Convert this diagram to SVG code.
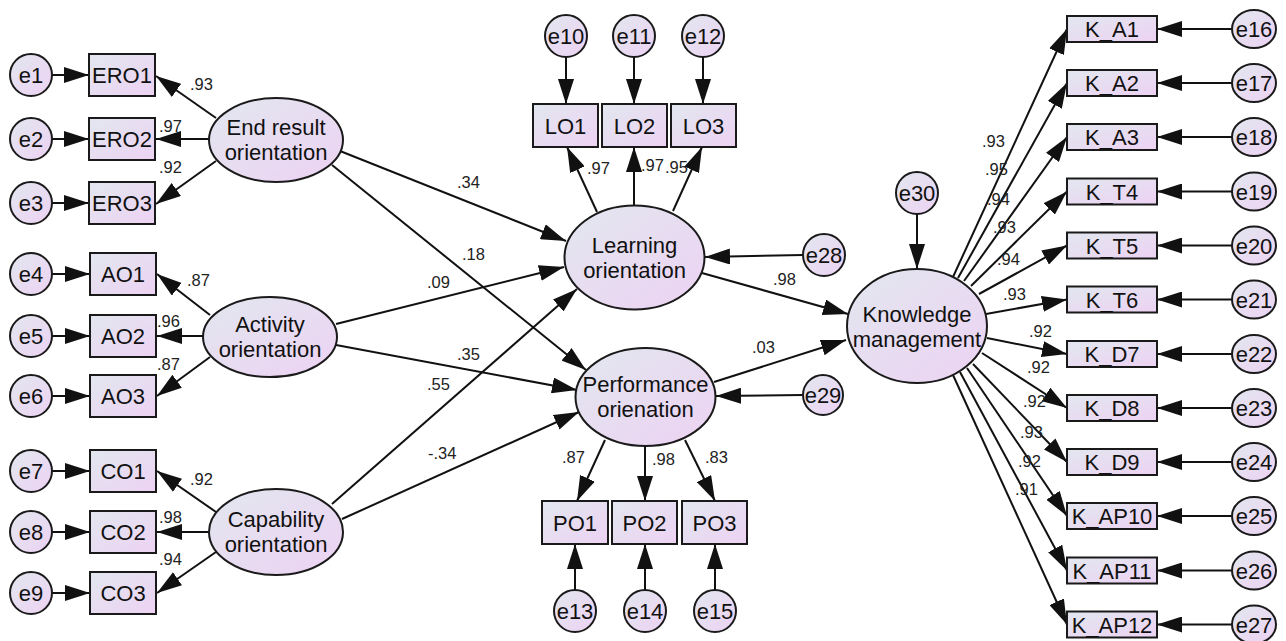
<svg xmlns="http://www.w3.org/2000/svg" width="1286" height="641" viewBox="0 0 1286 641">
<defs>
<linearGradient id="g" x1="0" y1="0" x2="1" y2="1">
<stop offset="0" stop-color="#e2e7ef"/>
<stop offset="1" stop-color="#edd2f3"/>
</linearGradient>
<marker id="a" markerUnits="userSpaceOnUse" markerWidth="25" markerHeight="16" refX="25" refY="8" orient="auto">
<path d="M0,0 L25,8 L0,16 z" fill="#111"/>
</marker>
<style>
.n{fill:url(#g);stroke:#1a1a1a;stroke-width:2}
.t{font-family:"Liberation Sans",Arial,sans-serif;font-size:22px;fill:#111;text-anchor:middle}
.c line{stroke:#111;stroke-width:2;marker-end:url(#a)}
.l{font-family:"Liberation Sans",Arial,sans-serif;font-size:16.5px;fill:#222}
</style>
</defs>
<rect width="1286" height="641" fill="#fff"/>

<g class="c" id="connectors">
<line x1="52" y1="75" x2="89" y2="75"/>
<line x1="52" y1="139" x2="89" y2="139"/>
<line x1="52" y1="203" x2="89" y2="203"/>
<line x1="52" y1="274" x2="90" y2="274"/>
<line x1="52" y1="336" x2="90" y2="336"/>
<line x1="52" y1="396" x2="90" y2="396"/>
<line x1="52" y1="471" x2="90" y2="471"/>
<line x1="52" y1="532" x2="90" y2="532"/>
<line x1="52" y1="593" x2="90" y2="593"/>
<line x1="216" y1="118" x2="156" y2="76"/>
<line x1="209" y1="139" x2="156" y2="139"/>
<line x1="216" y1="161" x2="156" y2="204"/>
<line x1="210" y1="315" x2="157" y2="274"/>
<line x1="203" y1="336" x2="157" y2="336"/>
<line x1="210" y1="357" x2="157" y2="396"/>
<line x1="216" y1="512" x2="157" y2="471"/>
<line x1="209" y1="532" x2="157" y2="532"/>
<line x1="216" y1="552" x2="157" y2="593"/>
<line x1="340" y1="151" x2="566" y2="241"/>
<line x1="332" y1="165" x2="586" y2="370"/>
<line x1="336" y1="324" x2="564" y2="267"/>
<line x1="336" y1="345" x2="577" y2="390"/>
<line x1="332" y1="504" x2="577" y2="289"/>
<line x1="342" y1="519" x2="579" y2="412"/>
<line x1="702" y1="273" x2="848" y2="314"/>
<line x1="714" y1="382" x2="846" y2="340"/>
<line x1="803" y1="255" x2="705" y2="257"/>
<line x1="803" y1="395" x2="716" y2="396"/>
<line x1="917" y1="214" x2="917" y2="269"/>
<line x1="566" y1="57" x2="566" y2="104"/>
<line x1="634" y1="57" x2="634" y2="104"/>
<line x1="703" y1="57" x2="703" y2="104"/>
<line x1="597" y1="212" x2="567" y2="147"/>
<line x1="634" y1="205" x2="634" y2="147"/>
<line x1="673" y1="211" x2="702" y2="147"/>
<line x1="605" y1="440" x2="577" y2="501"/>
<line x1="645" y1="446" x2="645" y2="501"/>
<line x1="685" y1="440" x2="715" y2="501"/>
<line x1="575" y1="590" x2="575" y2="544"/>
<line x1="645" y1="590" x2="645" y2="544"/>
<line x1="715" y1="590" x2="715" y2="544"/>
<line x1="953" y1="277" x2="1067" y2="29"/>
<line x1="958" y1="278" x2="1067" y2="83"/>
<line x1="964" y1="281" x2="1067" y2="137"/>
<line x1="971" y1="286" x2="1067" y2="191.5"/>
<line x1="979" y1="294" x2="1067" y2="245.5"/>
<line x1="986" y1="314" x2="1067" y2="299.5"/>
<line x1="987" y1="338" x2="1067" y2="354"/>
<line x1="982" y1="353" x2="1067" y2="408"/>
<line x1="973" y1="364" x2="1067" y2="462"/>
<line x1="967" y1="368" x2="1067" y2="516"/>
<line x1="960" y1="372" x2="1067" y2="570.5"/>
<line x1="953" y1="375" x2="1067" y2="624.5"/>
<line x1="1232" y1="29" x2="1157" y2="29"/>
<line x1="1232" y1="83" x2="1157" y2="83"/>
<line x1="1232" y1="137" x2="1157" y2="137"/>
<line x1="1232" y1="191.5" x2="1157" y2="191.5"/>
<line x1="1232" y1="245.5" x2="1157" y2="245.5"/>
<line x1="1232" y1="299.5" x2="1157" y2="299.5"/>
<line x1="1232" y1="354" x2="1157" y2="354"/>
<line x1="1232" y1="408" x2="1157" y2="408"/>
<line x1="1232" y1="462" x2="1157" y2="462"/>
<line x1="1232" y1="516" x2="1157" y2="516"/>
<line x1="1232" y1="570.5" x2="1157" y2="570.5"/>
<line x1="1232" y1="624.5" x2="1157" y2="624.5"/>
</g>

<g id="labels" class="l">
<text x="190" y="90">.93</text>
<text x="159" y="132">.97</text>
<text x="159" y="173">.92</text>
<text x="187" y="286">.87</text>
<text x="157" y="327">.96</text>
<text x="157" y="370">.87</text>
<text x="190" y="485">.92</text>
<text x="159" y="523">.98</text>
<text x="159" y="565">.94</text>
<text x="587" y="174">.97</text>
<text x="641" y="171">.97</text>
<text x="665" y="173">.95</text>
<text x="457" y="188">.34</text>
<text x="462" y="260">.18</text>
<text x="427" y="288">.09</text>
<text x="773" y="285">.98</text>
<text x="457" y="360">.35</text>
<text x="427" y="390">.55</text>
<text x="428" y="459">-.34</text>
<text x="752" y="353">.03</text>
<text x="562" y="463">.87</text>
<text x="652" y="465">.98</text>
<text x="705" y="463">.83</text>
<text x="982" y="147">.93</text>
<text x="985" y="175">.95</text>
<text x="987" y="205">.94</text>
<text x="993" y="233">.93</text>
<text x="997" y="265">.94</text>
<text x="1003" y="300">.93</text>
<text x="1029" y="337">.92</text>
<text x="1027" y="373">.92</text>
<text x="1023" y="407">.92</text>
<text x="1020" y="438">.93</text>
<text x="1018" y="467">.92</text>
<text x="1015" y="495">.91</text>
</g>

<g id="e1"><circle class="n" cx="31" cy="75" r="21"/><text class="t" x="31" y="83">e1</text></g>
<g id="e2"><circle class="n" cx="31" cy="139" r="21"/><text class="t" x="31" y="147">e2</text></g>
<g id="e3"><circle class="n" cx="31" cy="203" r="21"/><text class="t" x="31" y="211">e3</text></g>
<g id="e4"><circle class="n" cx="31" cy="274" r="21"/><text class="t" x="31" y="282">e4</text></g>
<g id="e5"><circle class="n" cx="31" cy="336" r="21"/><text class="t" x="31" y="344">e5</text></g>
<g id="e6"><circle class="n" cx="31" cy="396" r="21"/><text class="t" x="31" y="404">e6</text></g>
<g id="e7"><circle class="n" cx="31" cy="471" r="21"/><text class="t" x="31" y="479">e7</text></g>
<g id="e8"><circle class="n" cx="31" cy="532" r="21"/><text class="t" x="31" y="540">e8</text></g>
<g id="e9"><circle class="n" cx="31" cy="593" r="21"/><text class="t" x="31" y="601">e9</text></g>

<g id="ERO1"><rect class="n" x="89" y="54" width="66" height="42"/><text class="t" x="122" y="83">ERO1</text></g>
<g id="ERO2"><rect class="n" x="89" y="118" width="66" height="42"/><text class="t" x="122" y="147">ERO2</text></g>
<g id="ERO3"><rect class="n" x="89" y="182" width="66" height="42"/><text class="t" x="122" y="211">ERO3</text></g>
<g id="AO1"><rect class="n" x="90" y="253" width="66" height="42"/><text class="t" x="123" y="282">AO1</text></g>
<g id="AO2"><rect class="n" x="90" y="315" width="66" height="42"/><text class="t" x="123" y="344">AO2</text></g>
<g id="AO3"><rect class="n" x="90" y="375" width="66" height="42"/><text class="t" x="123" y="404">AO3</text></g>
<g id="CO1"><rect class="n" x="90" y="450" width="66" height="42"/><text class="t" x="123" y="479">CO1</text></g>
<g id="CO2"><rect class="n" x="90" y="511" width="66" height="42"/><text class="t" x="123" y="540">CO2</text></g>
<g id="CO3"><rect class="n" x="90" y="572" width="66" height="42"/><text class="t" x="123" y="601">CO3</text></g>

<g id="ERO"><ellipse class="n" cx="276" cy="140" rx="67" ry="42"/><text class="t" x="276" y="135">End result</text><text class="t" x="276" y="160">orientation</text></g>
<g id="AO"><ellipse class="n" cx="270" cy="337" rx="67" ry="40"/><text class="t" x="270" y="332">Activity</text><text class="t" x="270" y="357">orientation</text></g>
<g id="CO"><ellipse class="n" cx="276" cy="532" rx="67" ry="43"/><text class="t" x="276" y="527">Capability</text><text class="t" x="276" y="552">orientation</text></g>

<g id="e10"><circle class="n" cx="566" cy="36" r="21"/><text class="t" x="566" y="44">e10</text></g>
<g id="e11"><circle class="n" cx="634" cy="36" r="21"/><text class="t" x="634" y="44">e11</text></g>
<g id="e12"><circle class="n" cx="703" cy="36" r="21"/><text class="t" x="703" y="44">e12</text></g>
<g id="LO1"><rect class="n" x="533" y="104" width="65" height="43"/><text class="t" x="565.5" y="133.5">LO1</text></g>
<g id="LO2"><rect class="n" x="602" y="104" width="65" height="43"/><text class="t" x="634.5" y="133.5">LO2</text></g>
<g id="LO3"><rect class="n" x="671" y="104" width="65" height="43"/><text class="t" x="703.5" y="133.5">LO3</text></g>
<g id="LO"><ellipse class="n" cx="634.5" cy="257.5" rx="70" ry="52"/><text class="t" x="634.5" y="252.5">Learning</text><text class="t" x="634.5" y="277.5">orientation</text></g>
<g id="e28"><circle class="n" cx="824" cy="255" r="21"/><text class="t" x="824" y="263">e28</text></g>

<g id="PO"><ellipse class="n" cx="645.5" cy="397" rx="70" ry="49"/><text class="t" x="645.5" y="392">Performance</text><text class="t" x="645.5" y="417">orienation</text></g>
<g id="e29"><circle class="n" cx="823" cy="395" r="20"/><text class="t" x="823" y="403">e29</text></g>
<g id="PO1"><rect class="n" x="542" y="501" width="66" height="43"/><text class="t" x="575" y="530.5">PO1</text></g>
<g id="PO2"><rect class="n" x="612" y="501" width="65" height="43"/><text class="t" x="644.5" y="530.5">PO2</text></g>
<g id="PO3"><rect class="n" x="682" y="501" width="65" height="43"/><text class="t" x="714.5" y="530.5">PO3</text></g>
<g id="e13"><circle class="n" cx="575" cy="611" r="21"/><text class="t" x="575" y="619">e13</text></g>
<g id="e14"><circle class="n" cx="645" cy="611" r="21"/><text class="t" x="645" y="619">e14</text></g>
<g id="e15"><circle class="n" cx="715" cy="611" r="21"/><text class="t" x="715" y="619">e15</text></g>

<g id="KM"><ellipse class="n" cx="917" cy="326" rx="70" ry="57"/><text class="t" x="917" y="322">Knowledge</text><text class="t" x="917" y="347">management</text></g>
<g id="e30"><circle class="n" cx="917" cy="193" r="21"/><text class="t" x="917" y="201">e30</text></g>

<g id="K_A1"><rect class="n" x="1067" y="16" width="90" height="26"/><text class="t" x="1112" y="37">K_A1</text></g>
<g id="K_A2"><rect class="n" x="1067" y="70" width="90" height="26"/><text class="t" x="1112" y="91">K_A2</text></g>
<g id="K_A3"><rect class="n" x="1067" y="124" width="90" height="26"/><text class="t" x="1112" y="145">K_A3</text></g>
<g id="K_T4"><rect class="n" x="1067" y="178.5" width="90" height="26"/><text class="t" x="1112" y="199.5">K_T4</text></g>
<g id="K_T5"><rect class="n" x="1067" y="232.5" width="90" height="26"/><text class="t" x="1112" y="253.5">K_T5</text></g>
<g id="K_T6"><rect class="n" x="1067" y="286.5" width="90" height="26"/><text class="t" x="1112" y="307.5">K_T6</text></g>
<g id="K_D7"><rect class="n" x="1067" y="341" width="90" height="26"/><text class="t" x="1112" y="362">K_D7</text></g>
<g id="K_D8"><rect class="n" x="1067" y="395" width="90" height="26"/><text class="t" x="1112" y="416">K_D8</text></g>
<g id="K_D9"><rect class="n" x="1067" y="449" width="90" height="26"/><text class="t" x="1112" y="470">K_D9</text></g>
<g id="K_AP10"><rect class="n" x="1067" y="503" width="90" height="26"/><text class="t" x="1112" y="524">K_AP10</text></g>
<g id="K_AP11"><rect class="n" x="1067" y="557.5" width="90" height="26"/><text class="t" x="1112" y="578.5">K_AP11</text></g>
<g id="K_AP12"><rect class="n" x="1067" y="611.5" width="90" height="26"/><text class="t" x="1112" y="632.5">K_AP12</text></g>

<g id="e16"><ellipse class="n" cx="1254" cy="29" rx="22" ry="19"/><text class="t" x="1254" y="37">e16</text></g>
<g id="e17"><ellipse class="n" cx="1254" cy="83" rx="22" ry="19"/><text class="t" x="1254" y="91">e17</text></g>
<g id="e18"><ellipse class="n" cx="1254" cy="137" rx="22" ry="19"/><text class="t" x="1254" y="145">e18</text></g>
<g id="e19"><ellipse class="n" cx="1254" cy="191.5" rx="22" ry="19"/><text class="t" x="1254" y="199.5">e19</text></g>
<g id="e20"><ellipse class="n" cx="1254" cy="245.5" rx="22" ry="19"/><text class="t" x="1254" y="253.5">e20</text></g>
<g id="e21"><ellipse class="n" cx="1254" cy="299.5" rx="22" ry="19"/><text class="t" x="1254" y="307.5">e21</text></g>
<g id="e22"><ellipse class="n" cx="1254" cy="354" rx="22" ry="19"/><text class="t" x="1254" y="362">e22</text></g>
<g id="e23"><ellipse class="n" cx="1254" cy="408" rx="22" ry="19"/><text class="t" x="1254" y="416">e23</text></g>
<g id="e24"><ellipse class="n" cx="1254" cy="462" rx="22" ry="19"/><text class="t" x="1254" y="470">e24</text></g>
<g id="e25"><ellipse class="n" cx="1254" cy="516" rx="22" ry="19"/><text class="t" x="1254" y="524">e25</text></g>
<g id="e26"><ellipse class="n" cx="1254" cy="570.5" rx="22" ry="19"/><text class="t" x="1254" y="578.5">e26</text></g>
<g id="e27"><ellipse class="n" cx="1254" cy="624.5" rx="22" ry="19"/><text class="t" x="1254" y="632.5">e27</text></g>
</svg>
